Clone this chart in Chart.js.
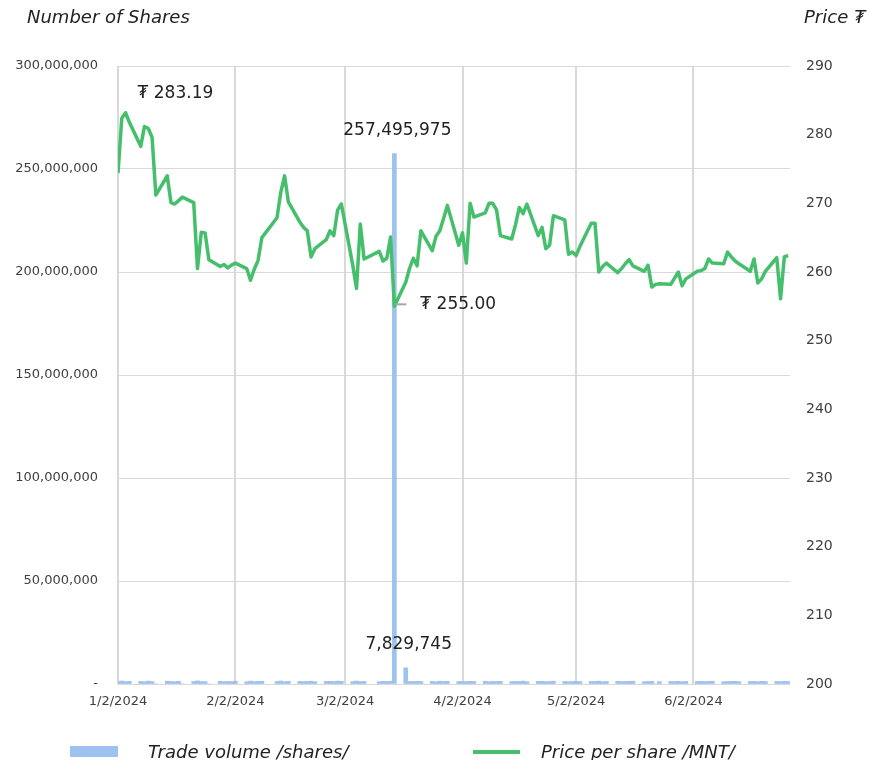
<!DOCTYPE html>
<html><head><meta charset="utf-8">
<script src="https://cdn.jsdelivr.net/npm/chart.js@4.4.1/dist/chart.umd.min.js"></script>
<style>html,body{margin:0;padding:0;background:#fff;}#wrap{position:relative;width:870px;height:760px;}</style>
</head><body><div id="wrap"><canvas id="c" width="870" height="760"></canvas></div>
<script>
// ---- data ----
const tradeDates = [
 '1/2','1/3','1/4','1/5','1/8','1/9','1/10','1/11','1/12','1/15','1/16','1/17','1/18','1/19','1/22','1/23','1/24','1/25','1/26','1/29','1/30','1/31',
 '2/1','2/2','2/5','2/6','2/7','2/8','2/9','2/13','2/14','2/15','2/16','2/19','2/20','2/21','2/22','2/23','2/26','2/27','2/28','2/29',
 '3/1','3/4','3/5','3/6','3/7','3/11','3/12','3/13','3/14','3/15','3/18','3/19','3/20','3/21','3/22','3/25','3/26','3/27','3/28','3/29',
 '4/1','4/2','4/3','4/4','4/5','4/8','4/9','4/10','4/11','4/12','4/15','4/16','4/17','4/18','4/19','4/22','4/23','4/24','4/25','4/26','4/29','4/30',
 '5/1','5/2','5/3','5/6','5/7','5/8','5/9','5/10','5/13','5/14','5/15','5/16','5/17','5/20','5/21','5/22','5/23','5/24','5/27','5/28','5/29','5/30','5/31',
 '6/3','6/4','6/5','6/6','6/7','6/10','6/11','6/12','6/13','6/14','6/17','6/18','6/19','6/20','6/21','6/24','6/25','6/26','6/27'
];
const prices = [
 274.4,282.4,283.19,281.8,278.3,281.2,280.9,279.6,271.2,274.0,270.1,269.9,270.4,270.9,270.1,260.5,265.8,265.7,261.8,260.8,261.1,260.6,
 261.0,261.3,260.5,258.8,260.4,261.7,265.0,267.9,271.6,274.0,270.2,267.3,266.5,266.0,262.2,263.4,264.7,266.0,265.3,269.0,
 269.9,261.0,257.6,267.0,261.9,263.0,261.6,262.0,265.1,255.0,258.5,260.5,262.0,260.9,266.0,263.1,265.2,266.0,267.8,269.7,
 263.9,265.7,261.3,270.0,268.0,268.6,270.0,270.0,269.0,265.3,264.8,266.9,269.4,268.5,269.9,265.3,266.5,263.4,263.9,268.2,267.6,262.6,
 262.9,262.4,263.7,267.1,267.1,260.0,260.8,261.3,259.9,260.5,261.2,261.8,260.9,260.1,261.0,257.8,258.2,258.3,258.2,259.1,260.0,258.0,259.0,
 260.1,260.2,260.5,261.9,261.3,261.2,262.9,262.2,261.6,261.2,260.1,261.9,258.4,259.0,260.1,262.1,256.1,262.2,262.4
];
const volumes = [
 1200000,1450000,1100000,1300000,1250000,1050000,1400000,1150000,0,1350000,1200000,1100000,1300000,0,1250000,1500000,1200000,1150000,0,1300000,1100000,1250000,
 1200000,1350000,1100000,1400000,1150000,1250000,1300000,1200000,1450000,1100000,1250000,1300000,1150000,1200000,1350000,1100000,1250000,1300000,1200000,1400000,
 1300000,1150000,1450000,1200000,1250000,1100000,1300000,1200000,1350000,257495975,7829745,1250000,1150000,1300000,1200000,1250000,1100000,1350000,1200000,1300000,
 1200000,1250000,1150000,1300000,1200000,1350000,1100000,1250000,1200000,1300000,1150000,1250000,1200000,1400000,1100000,1250000,1300000,1150000,1200000,1350000,1250000,1100000,
 1200000,1300000,1150000,1250000,1200000,1400000,1100000,1250000,1300000,1150000,1200000,1250000,1350000,1100000,1200000,1300000,0,1150000,1250000,1200000,1300000,1100000,1250000,
 1200000,1300000,1150000,1250000,1350000,1100000,1200000,1250000,1300000,1150000,1200000,1250000,1100000,1300000,1200000,1250000,1150000,1300000,1200000
];
const xTickLabels = ['1/2/2024','2/2/2024','3/2/2024','4/2/2024','5/2/2024','6/2/2024'];
const seriesNames = ['Trade volume /shares/','Price per share /MNT/'];

// ---- helpers ----
const YEAR = 2024;
function dayOf(s){ const p=s.split('/'); return Math.round((Date.UTC(YEAR,+p[0]-1,+p[1]) - Date.UTC(YEAR,0,2))/86400000); }
const days = tradeDates.map(dayOf);
const tickDays = xTickLabels.map(dayOf);

const BAR = '#9ec2ef', LINE = '#45bf6b', GRID = '#d9d9d9';
const FONT = '"DejaVu Sans", "Noto Sans", sans-serif';

const annot = {
  id:'annot',
  afterDraw(chart){
    const ctx = chart.ctx, xs = chart.scales.x, yL = chart.scales.y, yR = chart.scales.y1;
    ctx.save();
    ctx.fillStyle = '#222';
    ctx.textBaseline = 'middle';
    const iMax = prices.indexOf(Math.max(...prices));
    let px = xs.getPixelForValue(days[iMax]), py = yR.getPixelForValue(prices[iMax]);
    ctx.font = '17px ' + FONT; ctx.textAlign = 'left';
    ctx.fillText('\u20AE ' + prices[iMax].toFixed(2), px + 12, py - 19);
    const iMin = prices.indexOf(Math.min(...prices));
    px = xs.getPixelForValue(days[iMin]); py = yR.getPixelForValue(prices[iMin]);
    ctx.strokeStyle = '#a6a6a6'; ctx.lineWidth = 2;
    ctx.beginPath(); ctx.moveTo(px + 1, py - 2); ctx.lineTo(px + 12, py - 2); ctx.stroke();
    ctx.fillText('\u20AE ' + prices[iMin].toFixed(2), px + 26, py - 2);
    const sorted = volumes.map((v,i)=>i).sort((a,b)=>volumes[b]-volumes[a]).slice(0,2);
    ctx.textAlign = 'center';
    sorted.forEach(i=>{
      const bx = xs.getPixelForValue(days[i]), by = yL.getPixelForValue(volumes[i]);
      ctx.fillText(volumes[i].toLocaleString('en-US'), bx + 3, by - 23);
    });
    ctx.font = 'italic 18px ' + FONT; ctx.textAlign = 'left'; ctx.fillStyle = '#222';
    ctx.fillText('Number of Shares', 27, 18);
    ctx.fillText('Price \u20AE', 804, 18);
    ctx.fillStyle = BAR; ctx.fillRect(70, 746, 48, 11);
    ctx.fillStyle = '#222';
    ctx.fillText(seriesNames[0], 148, 753);
    ctx.strokeStyle = LINE; ctx.lineWidth = 4;
    ctx.beginPath(); ctx.moveTo(473, 752); ctx.lineTo(520, 752); ctx.stroke();
    ctx.fillText(seriesNames[1], 541, 753);
    ctx.restore();
  }
};

new Chart(document.getElementById('c'), {
  data: {
    datasets: [
      { type:'line', label: seriesNames[1], yAxisID:'y1', order:0,
        data: days.map((d,i)=>({x:d, y:prices[i]})),
        borderColor: LINE, borderWidth: 3.5, pointRadius: 0, tension: 0, fill:false, borderJoinStyle:'round' },
      { type:'bar', label: seriesNames[0], yAxisID:'y', order:1,
        data: days.map((d,i)=>({x:d, y:volumes[i]})),
        backgroundColor: BAR, barThickness: 4 }
    ]
  },
  options: {
    responsive:false, animation:false,
    layout:{ padding:{ top:66, bottom:46, left:0, right:0 } },
    plugins:{ legend:{display:false}, tooltip:{enabled:false} },
    scales:{
      x:{ type:'linear', min:0, max:177.5, offset:false,
        afterBuildTicks(s){ s.ticks = tickDays.map(v=>({value:v})); },
        afterFit(s){ s.height = 30; },
        ticks:{ autoSkip:false, maxRotation:0, padding:10, color:'#404040', font:{family:FONT, size:13},
          callback:(v,i)=>xTickLabels[i] },
        grid:{ color:GRID, lineWidth:2, drawTicks:false, offset:false },
        border:{ display:false }
      },
      y:{ position:'left', min:0, max:300000000,
        afterFit(s){ s.width = 118; },
        ticks:{ stepSize:50000000, padding:20, color:'#404040', font:{family:FONT, size:13},
          callback:v=> v===0 ? '-' : Number(v).toLocaleString('en-US') },
        grid:{ color:GRID, lineWidth:1, drawTicks:false },
        border:{ display:false }
      },
      y1:{ position:'right', min:200, max:290,
        afterFit(s){ s.width = 80; },
        ticks:{ stepSize:10, padding:16, color:'#404040', font:{family:FONT, size:14} },
        grid:{ display:false, drawTicks:false },
        border:{ display:false }
      }
    }
  },
  plugins:[annot]
});
</script></body></html>
